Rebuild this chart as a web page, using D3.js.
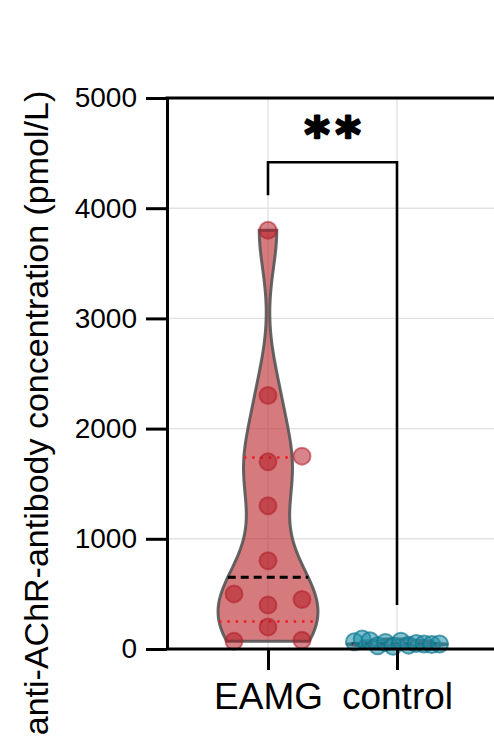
<!DOCTYPE html>
<html><head><meta charset="utf-8">
<script src="https://cdn.jsdelivr.net/npm/d3@7"></script>
<style>body{margin:0;background:#fff}svg{display:block}text{font-family:Arial,"Liberation Sans",sans-serif;fill:#000}</style>
</head><body><svg id="c" width="494" height="740"></svg>
<script>
// ---- data ----
const categories = ["EAMG", "control"];
const eamgValues = [3800, 2300, 1750, 1700, 1300, 800, 500, 450, 400, 200, 80, 70];
const eamgColumn = [0, 0, 1, 0, 0, 0, -1, 1, 0, 0, 1, -1]; // scatter column of each point
const controlValues = [65, 90, 75, 30, 60, 25, 70, 35, 50, 45, 40, 45];
const yTicks = [0, 1000, 2000, 3000, 4000, 5000];
const yLabel = "anti-AChR-antibody concentration (pmol/L)";
const sigLabel = "**";

// ---- layout ----
const svg = d3.select("#c");
const L = 167, T = 98, B = 649, R = 498;
const y = d3.scaleLinear().domain([0, 5000]).range([B, T]);
const x = d3.scalePoint().domain(categories).range([L, R]).padding(0.783);
const r = 8.5, halfMax = 50;

// gridlines
const grid = svg.append("g").attr("stroke", "#e2e2e2").attr("stroke-width", 1.4);
grid.selectAll(".h").data(yTicks.filter(t => t > 0 && t < 5000)).join("line")
  .attr("x1", L).attr("x2", R).attr("y1", d => y(d)).attr("y2", d => y(d));
grid.selectAll(".v").data(categories).join("line")
  .attr("x1", d => x(d)).attr("x2", d => x(d)).attr("y1", T).attr("y2", B);

// stats helpers
function sd(v) { return d3.deviation(v); }
function gpQuantile(v, p) {
  const s = v.slice().sort((a, b) => a - b), n = s.length, pos = p * (n + 1);
  if (pos <= 1) return s[0];
  if (pos >= n) return s[n - 1];
  const k = Math.floor(pos), f = pos - k;
  return s[k - 1] + f * (s[k] - s[k - 1]);
}
function dens(v, h, t) { return d3.sum(v, d => Math.exp(-0.5 * ((t - d) / h) ** 2)); }

function violin(vals, cat, fill) {
  const h = 0.312 * sd(vals);
  const lo = d3.min(vals), hi = d3.max(vals);
  const grid = d3.range(0, 101).map(i => lo + (hi - lo) * i / 100);
  const pts = grid.map(t => [t, dens(vals, h, t)]);
  const w = d3.scaleLinear().domain([0, d3.max(pts, d => d[1])]).range([0, halfMax]);
  const cx = x(cat);
  const area = d3.area().y(d => y(d[0])).x0(d => cx - w(d[1])).x1(d => cx + w(d[1])).curve(d3.curveBasis);
  svg.append("path").attr("d", area(pts)).attr("fill", fill)
    .attr("stroke", "#555").attr("stroke-opacity", 0.9).attr("stroke-width", 3);
  const lines = [
    { v: gpQuantile(vals, 0.5), stroke: "#000", dash: "8,5", sw: 3 },
    { v: gpQuantile(vals, 0.25), stroke: "#ee1c25", dash: "2.5,5.8", sw: 2.6 },
    { v: gpQuantile(vals, 0.75), stroke: "#ee1c25", dash: "2.5,5.8", sw: 2.6 }
  ];
  lines.forEach(l => {
    const hw = w(dens(vals, h, l.v));
    svg.append("line").attr("x1", cx - hw).attr("x2", cx + hw).attr("y1", y(l.v)).attr("y2", y(l.v))
      .attr("stroke", l.stroke).attr("stroke-width", l.sw).attr("stroke-dasharray", l.dash);
  });
}

violin(eamgValues, "EAMG", "rgba(185,35,40,0.6)");
violin(controlValues, "control", "rgba(30,135,160,0.55)");

// points
svg.append("g").selectAll("circle").data(eamgValues).join("circle")
  .attr("cx", (d, i) => x("EAMG") + eamgColumn[i] * 4 * r)
  .attr("cy", d => y(d)).attr("r", r)
  .attr("fill", "rgba(178,22,32,0.52)").attr("stroke", "rgba(175,30,40,0.55)").attr("stroke-width", 2);

const nC = controlValues.length, spC = Math.min(2 * r, 85 / (nC - 1));
svg.append("g").selectAll("circle").data(controlValues).join("circle")
  .attr("cx", (d, i) => x("control") + (i - (nC - 1) / 2) * spC)
  .attr("cy", d => y(d)).attr("r", r)
  .attr("fill", "rgba(30,145,170,0.55)").attr("stroke", "rgba(20,120,145,0.7)").attr("stroke-width", 2);

// axes
const yAxis = svg.append("g").attr("transform", `translate(${L},0)`)
  .call(d3.axisLeft(y).tickValues(yTicks).tickFormat(d3.format("d")).tickSize(21).tickSizeOuter(0).tickPadding(9));
yAxis.selectAll("text").attr("font-size", 28).attr("fill", "#000");
const xAxis = svg.append("g").attr("transform", `translate(0,${B})`)
  .call(d3.axisBottom(x).tickSize(21).tickSizeOuter(0).tickPadding(13));
xAxis.selectAll("text").attr("font-size", 37).attr("fill", "#000");
[yAxis, xAxis].forEach(a => {
  a.selectAll("line").attr("stroke", "#000").attr("stroke-width", 3);
  a.select(".domain").attr("stroke", "#000").attr("stroke-width", 3);
  a.selectAll("text").style("font-family", "Arial, 'Liberation Sans', sans-serif");
});
xAxis.select(".domain").attr("d", `M${L},0H${R}`);
// top border
svg.append("line").attr("x1", L - 1.5).attr("x2", R).attr("y1", T).attr("y2", T)
  .attr("stroke", "#000").attr("stroke-width", 3);

// y label
svg.append("text").attr("transform", "rotate(-90)").attr("x", -413).attr("y", 48)
  .attr("text-anchor", "middle").attr("font-size", 34).text(yLabel);

// significance bracket
const xa = x("EAMG"), xb = x("control");
const yTop = y(d3.max(eamgValues)) - 68;
const legA = y(d3.max(eamgValues)) - 35, legB = y(d3.max(controlValues)) - 34;
svg.append("path").attr("d", `M${xa},${legA}V${yTop}H${xb}V${legB}`)
  .attr("fill", "none").attr("stroke", "#000").attr("stroke-width", 2.6);
svg.append("text").attr("x", (xa + xb) / 2 + 3).attr("y", yTop - 11).attr("text-anchor", "middle")
  .style("font-family", "'DejaVu Sans', sans-serif").attr("font-size", 48).attr("font-weight", "bold")
  .attr("letter-spacing", 6).attr("stroke", "#000").attr("stroke-width", 2.4).attr("stroke-linejoin", "round")
  .text(sigLabel);
</script></body></html>
